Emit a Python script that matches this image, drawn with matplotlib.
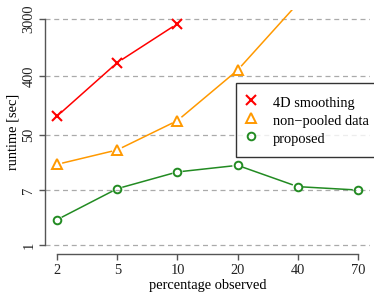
import matplotlib
matplotlib.use("Agg")
import matplotlib.pyplot as plt
import numpy as np

plt.rcParams['font.family'] = ['Liberation Serif', 'DejaVu Serif']

pct = ['2', '5', '10', '20', '40', '70']
smoothing_4d = [96, 640, 2540]
non_pooled = [17.4, 29, 82, 490, 5200]
proposed = [2.45, 7.35, 13.3, 16.8, 7.9, 7.0]
yticks = [1, 7, 50, 400, 3000]

FS = 10.4

fig = plt.figure(figsize=(3.74, 3.02), dpi=100)
ax = fig.add_axes([45/374, 48/302, 325/374, 244/302])

ax.set_yscale('log')
for v in yticks:
    ax.axhline(v, color='#aaaaaa', lw=0.9, ls=(0, (4, 3)), zorder=0)

ax.set_xlim(-0.2, 5.2)
lo, hi = np.log10(1), np.log10(3000)
ext = 0.04 * (hi - lo)
ax.set_ylim(10 ** (lo - ext), 10 ** (hi + ext))


def gapped_line(xs, ys, color, gap=6.0):
    # like R type="b": segments stop short of the points
    pts = ax.transData.transform(np.column_stack([xs, ys]))
    inv = ax.transData.inverted()
    for p, q in zip(pts[:-1], pts[1:]):
        d = q - p
        n = np.hypot(*d)
        if n <= 2 * gap:
            continue
        u = d / n
        seg = inv.transform(np.array([p + u * gap, q - u * gap]))
        ax.plot(seg[:, 0], seg[:, 1], color=color, lw=1.1, zorder=2)


series = [
    (smoothing_4d, 'red', dict(marker='x', ms=6.5, mew=1.5), '4D smoothing'),
    (non_pooled, '#ff9900', dict(marker='^', ms=7, mew=1.4, mfc='none'), 'non\u2212pooled data'),
    (proposed, '#228b22', dict(marker='o', ms=5.5, mew=1.4, mfc='none'), 'proposed'),
]
for vals, col, mk, lab in series:
    xs = np.arange(len(vals))
    gapped_line(xs, vals, col)
    ax.plot(xs, vals, ls='', color=col, label=lab, zorder=3, **mk)

ax.set_xticks(range(len(pct)))
ax.set_xticklabels(pct)
ax.set_yticks(yticks)
ax.set_yticklabels([str(v) for v in yticks], rotation=90, va='center')
ax.minorticks_off()

for s in ['top', 'right']:
    ax.spines[s].set_visible(False)
ax.spines['left'].set_bounds(1, 3000)
ax.spines['bottom'].set_bounds(0, 5)
for s in ['left', 'bottom']:
    ax.spines[s].set_color('#555555')
    ax.spines[s].set_linewidth(1.0)
ax.tick_params(axis='both', length=4, width=1.0, color='#555555',
               labelsize=FS, labelcolor='#222222')
ax.tick_params(axis='y', pad=3)
ax.tick_params(axis='x', pad=3)

ax.set_xlabel('percentage observed', fontsize=FS, labelpad=2)
ax.set_ylabel('runtime [sec]', fontsize=FS, labelpad=2)

# legend box runs past the right edge of the figure, as in the original
leg = ax.legend(loc='upper left', bbox_to_anchor=(0.588, 0.0, 0.44, 0.701),
                mode='expand', borderaxespad=0, fancybox=False, frameon=True,
                edgecolor='black', fontsize=FS, handlelength=0.6,
                handleheight=1.35, handletextpad=1.2, borderpad=0.75,
                labelspacing=0.13)
leg.get_frame().set_linewidth(1.0)

fig.savefig('out.png', dpi=100)
